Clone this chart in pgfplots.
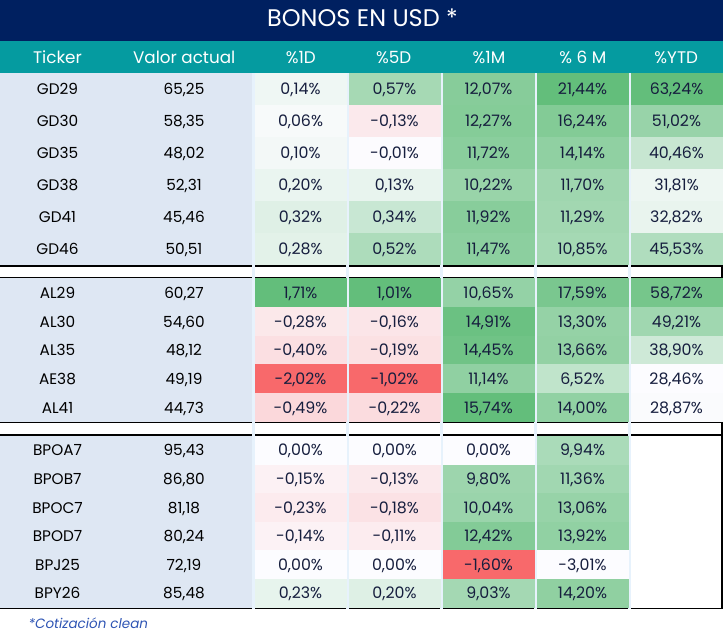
\documentclass[border=0pt]{standalone}
\usepackage{pgfplots}
\pgfplotsset{compat=1.18}
\usepackage{pgfplotstable}
\usepackage{fontspec}
\setmainfont{Poppins}
\definecolor{navy}{RGB}{0,32,96}
\definecolor{tealh}{RGB}{5,155,160}
\definecolor{lblue}{RGB}{222,231,243}
\definecolor{gapblue}{RGB}{231,242,252}
\definecolor{celltxt}{RGB}{22,30,62}
\definecolor{notecol}{RGB}{47,85,180}

\tikzset{hdr/.style={anchor=base, text=white, font=\fontsize{16.8bp}{19bp}\selectfont}}

\def\cellh{30}
\pgfdeclareplotmark{cell}{\pgfmathsetmacro\hh{0.5*\cellh}\pgfpathrectangle{\pgfpoint{-46bp}{-\hh bp}}{\pgfpoint{92bp}{2*\hh bp}}\pgfusepathqfill}

\pgfplotsset{
  colormap={cA}{rgb255(0bp)=(248,105,107) rgb255(202bp)=(252,252,255) rgb255(373bp)=(99,190,123)},
  colormap={cB}{rgb255(0bp)=(248,105,107) rgb255(102bp)=(252,252,255) rgb255(203bp)=(99,190,123)},
  colormap={cC}{rgb255(0bp)=(248,105,107) rgb255(160bp)=(252,252,255) rgb255(1734bp)=(99,190,123)},
  colormap={cW}{rgb255(0bp)=(252,252,255) rgb255(1bp)=(99,190,123)},
}

\pgfplotstableread{
t va y h d1 d5 m1 m6
GD29 65.25 89.3 32.2 0.14 0.57 12.07 21.44
GD30 58.35 121.3 32.2 0.06 -0.13 12.27 16.24
GD35 48.02 153.3 32.2 0.10 -0.01 11.72 14.14
GD38 52.31 185.3 32.2 0.20 0.13 10.22 11.70
GD41 45.46 217.3 32.2 0.32 0.34 11.92 11.29
GD46 50.51 249.3 32.2 0.28 0.52 11.47 10.85
AL29 60.27 292.8 28.8 1.71 1.01 10.65 17.59
AL30 54.60 321.45 28.8 -0.28 -0.16 14.91 13.30
AL35 48.12 350.1 28.8 -0.40 -0.19 14.45 13.66
AE38 49.19 378.75 28.8 -2.02 -1.02 11.14 6.52
AL41 44.73 407.4 28.8 -0.49 -0.22 15.74 14.00
BPOA7 95.43 450.3 28.8 0.00 0.00 0.00 9.94
BPOB7 86.80 478.9 28.8 -0.15 -0.13 9.80 11.36
BPOC7 81.18 507.5 28.8 -0.23 -0.18 10.04 13.06
BPOD7 80.24 536.1 28.8 -0.14 -0.11 12.42 13.92
BPJ25 72.19 564.7 28.8 0.00 0.00 -1.60 -3.01
BPY26 85.48 593.3 28.8 0.23 0.20 9.03 14.20
}\data

\pgfplotstableread{
y h v
89.3 32.2 63.24
121.3 32.2 51.02
153.3 32.2 40.46
185.3 32.2 31.81
217.3 32.2 32.82
249.3 32.2 45.53
292.8 28.8 58.72
321.45 28.8 49.21
350.1 28.8 38.90
378.75 28.8 28.46
407.4 28.8 28.87
}\ytd

\begin{document}
\begin{tikzpicture}
\begin{axis}[
  width=724bp, height=639bp, scale only axis,
  xmin=0, xmax=724, ymin=0, ymax=639, y dir=reverse,
  hide axis, clip=false,
  point meta rel=per plot,
  /pgf/number format/assume math mode=true,
  cellplot/.style={scatter, only marks, mark=cell, point meta=explicit,
    scatter/use mapped color={draw=none, fill=mapped color},
    visualization depends on={\thisrow{h} \as \cellh}},
  txtbase/.style={draw=none, mark=none, nodes near coords align=center,
    every node near coord/.append style={anchor=center, inner sep=0pt,
      text height=11.2bp, text depth=0bp}},
  pcttxt/.style={txtbase, point meta=explicit,
    every node near coord/.append style={text=celltxt, font=\fontsize{15.8bp}{18bp}\selectfont},
    nodes near coords={\pgfmathprintnumber[fixed,fixed zerofill,precision=2,use comma]{\pgfplotspointmeta}\%}},
]
% backgrounds
\addplot[fill=navy, draw=none] coordinates {(0,0) (722.7,0) (722.7,41) (0,41)};
\addplot[fill=tealh, draw=none] coordinates {(0,41) (722.7,41) (722.7,73.3) (0,73.3)};
\addplot[fill=lblue, draw=none] coordinates {(0,73.3) (253,73.3) (253,265.3) (0,265.3)};
\addplot[fill=lblue, draw=none] coordinates {(0,278.3) (253,278.3) (253,421.7) (0,421.7)};
\addplot[fill=lblue, draw=none] coordinates {(0,435.8) (253,435.8) (253,607.7) (0,607.7)};

% heat cells
\addplot[cellplot, colormap name=cA] table[x expr=300.5, y=y, meta=d1] {\data};
\addplot[cellplot, colormap name=cB] table[x expr=394.5, y=y, meta=d5] {\data};
\addplot[cellplot, colormap name=cC] table[x expr=488.5, y=y, meta=m1] {\data};
\addplot[cellplot, colormap name=cW] table[x expr=582.5, y=y, meta=m6] {\data};
\addplot[cellplot, colormap name=cW] table[x expr=676.5, y=y, meta=v] {\ytd};

% separator lines
\addplot[black, line width=1.8bp] coordinates {(0,266.1) (722.7,266.1)};
\addplot[black, line width=1.8bp] coordinates {(0,277.5) (722.7,277.5)};
\addplot[black, line width=1.8bp] coordinates {(0,422.5) (722.7,422.5)};
\addplot[black, line width=1.8bp] coordinates {(0,435.1) (722.7,435.1)};
\addplot[black, line width=1.8bp] coordinates {(0,608.5) (722.7,608.5)};

% column gaps
\addplot[gapblue, line width=3.2bp] coordinates {(253.4,73.3) (253.4,609.4)};
\addplot[gapblue, line width=3.2bp] coordinates {(347.5,73.3) (347.5,609.4)};
\addplot[gapblue, line width=3.2bp] coordinates {(441.5,73.3) (441.5,609.4)};
\addplot[gapblue, line width=3.2bp] coordinates {(535.5,73.3) (535.5,609.4)};
\addplot[gapblue, line width=3.2bp] coordinates {(629.6,73.3) (629.6,609.4)};
\addplot[black, line width=2bp] coordinates {(721.7,73.3) (721.7,609.4)};

% texts
\addplot[txtbase, point meta=explicit symbolic, nodes near coords,
  every node near coord/.append style={text=black, font=\fontsize{15.3bp}{18bp}\selectfont}] table[x expr=57.5, y=y, meta=t] {\data};
\addplot[txtbase, point meta=explicit,
  every node near coord/.append style={text=black, font=\fontsize{15.3bp}{18bp}\selectfont},
  nodes near coords={\pgfmathprintnumber[fixed,fixed zerofill,precision=2,use comma]{\pgfplotspointmeta}}] table[x expr=184, y=y, meta=va] {\data};
\addplot[pcttxt] table[x expr=300.5, y=y, meta=d1] {\data};
\addplot[pcttxt] table[x expr=394.5, y=y, meta=d5] {\data};
\addplot[pcttxt] table[x expr=488.5, y=y, meta=m1] {\data};
\addplot[pcttxt] table[x expr=582.5, y=y, meta=m6] {\data};
\addplot[pcttxt] table[x expr=676.5, y=y, meta=v] {\ytd};

\node[anchor=base, text=white, font=\fontsize{24bp}{28bp}\selectfont] at (axis cs:362.5,26.7) {BONOS EN USD *};
\node[hdr] at (axis cs:57.5,63.3) {Ticker};
\node[hdr] at (axis cs:184.2,63.3) {Valor actual};
\node[hdr] at (axis cs:300.8,63.3) {\%1D};
\node[hdr] at (axis cs:393.7,63.3) {\%5D};
\node[hdr] at (axis cs:489,63.3) {\%1M};
\node[hdr] at (axis cs:582.8,63.3) {\% 6 M};
\node[hdr] at (axis cs:676.2,63.3) {\%YTD};
\node[anchor=base west, text=notecol, font=\fontsize{13.5bp}{16bp}\selectfont\itshape] at (axis cs:25,628) {*Cotización clean};
\end{axis}
\pgfresetboundingbox
\useasboundingbox (current axis.south west) rectangle (current axis.north east);
\end{tikzpicture}
\end{document}
